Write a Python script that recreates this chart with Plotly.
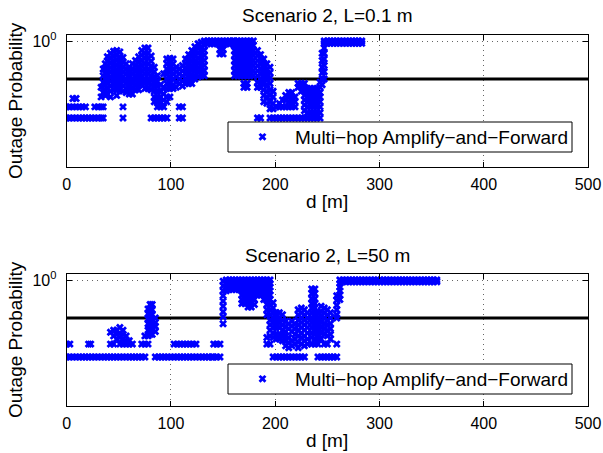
import plotly.graph_objects as go

# ---------------- data ----------------
threshold = 0.5
x_ticks = [0, 100, 200, 300, 400, 500]
x_tick_labels = ["0", "100", "200", "300", "400", "500"]
y_ticks = [1]
y_tick_labels = ["10<sup>0</sup>"]
titles = ["Scenario 2, L=0.1 m", "Scenario 2, L=50 m"]
x_label = "d [m]"
y_label = "Outage Probability"
legend_label = "Multi\u2212hop Amplify\u2212and\u2212Forward"

top_columns = [
    (0, [0.30, 0.245]), (3, [0.30, 0.245]), (6, [0.35, 0.30, 0.245]), (9, [0.35, 0.30, 0.245]),
    (12, [0.30, 0.245]), (15, [0.30, 0.245]), (18, [0.30, 0.245]), (21, [0.245]), (24, [0.245]),
    (27, [0.30, 0.245]), (30, [0.30, 0.245]), (33, [0.43, 0.36, 0.30, 0.245]),
    (35, [0.60, 0.53, 0.47, 0.39, 0.30, 0.245]),
    (37, [0.66, 0.60, 0.55, 0.50, 0.45, 0.41, 0.37]),
    (39, [0.75, 0.69, 0.63, 0.58, 0.53, 0.50, 0.46, 0.42, 0.38]),
    (42, [0.80, 0.74, 0.68, 0.62, 0.57, 0.52, 0.48, 0.44, 0.40, 0.36]),
    (45, [0.83, 0.76, 0.69, 0.63, 0.58, 0.53, 0.49, 0.45, 0.41]),
    (48, [0.84, 0.77, 0.70, 0.64, 0.58, 0.53, 0.49, 0.45, 0.41, 0.37]),
    (51, [0.82, 0.75, 0.69, 0.63, 0.58, 0.53, 0.49, 0.45, 0.41]),
    (54, [0.74, 0.68, 0.62, 0.57, 0.52, 0.48, 0.44, 0.40, 0.30, 0.245]),
    (57, [0.66, 0.60, 0.55, 0.50, 0.46, 0.42, 0.39]),
    (60, [0.60, 0.55, 0.50, 0.46, 0.42, 0.38]),
    (63, [0.66, 0.60, 0.55, 0.50, 0.46, 0.42, 0.38]),
    (66, [0.70, 0.64, 0.58, 0.53, 0.49, 0.45, 0.41]),
    (69, [0.75, 0.69, 0.63, 0.58, 0.53, 0.49, 0.45, 0.41]),
    (72, [0.84, 0.77, 0.70, 0.64, 0.58, 0.53, 0.49, 0.45]),
    (75, [0.88, 0.80, 0.73, 0.66, 0.60, 0.55, 0.50, 0.46, 0.42]),
    (78, [0.88, 0.80, 0.73, 0.66, 0.60, 0.55, 0.50, 0.46, 0.42]),
    (81, [0.76, 0.69, 0.63, 0.58, 0.53, 0.49, 0.45, 0.41, 0.245]),
    (84, [0.62, 0.57, 0.52, 0.48, 0.44, 0.40, 0.36, 0.33, 0.245]),
    (87, [0.53, 0.48, 0.44, 0.40, 0.36, 0.33, 0.30, 0.245]),
    (90, [0.45, 0.40, 0.36, 0.33, 0.30, 0.245]),
    (93, [0.55, 0.43, 0.38, 0.34, 0.30, 0.245]),
    (96, [0.72, 0.66, 0.60, 0.55, 0.50, 0.46, 0.42, 0.36, 0.33, 0.245]),
    (99, [0.73, 0.67, 0.61, 0.56, 0.51, 0.46, 0.42, 0.36]),
    (102, [0.72, 0.66, 0.60, 0.55, 0.50, 0.45, 0.42]),
    (105, [0.62, 0.57, 0.52, 0.47, 0.43]),
    (108, [0.60, 0.55, 0.50, 0.46, 0.30, 0.245]),
    (111, [0.64, 0.58, 0.53, 0.48, 0.44, 0.30, 0.245]),
    (114, [0.72, 0.66, 0.60, 0.55, 0.50, 0.46]),
    (117, [0.78, 0.71, 0.65, 0.60, 0.55, 0.50, 0.46]),
    (120, [0.84, 0.77, 0.70, 0.64, 0.59, 0.54, 0.50, 0.46]),
    (123, [0.90, 0.83, 0.76, 0.69, 0.63, 0.58, 0.53, 0.50]),
    (126, [0.95, 0.88, 0.81, 0.74, 0.68, 0.62, 0.57, 0.52]),
    (129, [0.98, 0.90, 0.83, 0.76, 0.69, 0.63, 0.58, 0.53]),
    (132, [1.00, 0.92, 0.84, 0.77, 0.70, 0.64, 0.58, 0.53]),
    (135, [1.00, 0.95]), (138, [1.00, 0.95]), (141, [1.00, 0.95]), (144, [1.00, 0.95]),
    (147, [1.00, 0.93, 0.86, 0.79]), (150, [1.00, 0.93, 0.86, 0.79]),
    (153, [1.00, 0.95]), (156, [1.00, 0.95]), (159, [1.00, 0.95]),
    (161, [1.00, 0.92, 0.84, 0.77, 0.70, 0.64, 0.58, 0.53]),
    (164, [1.00, 0.92, 0.84, 0.77, 0.70, 0.64, 0.58, 0.53]),
    (167, [1.00, 0.92, 0.84, 0.77, 0.70, 0.64, 0.58, 0.53]),
    (170, [1.00, 0.92, 0.84, 0.77, 0.70, 0.64, 0.58, 0.53, 0.46, 0.43]),
    (173, [1.00, 0.92, 0.84, 0.77, 0.70, 0.64, 0.58, 0.53, 0.46, 0.43]),
    (176, [1.00, 0.92, 0.84, 0.77, 0.70, 0.64, 0.58, 0.53]),
    (179, [1.00, 0.92, 0.84, 0.77, 0.70, 0.64, 0.58, 0.53]),
    (183, [0.84, 0.77, 0.70, 0.64, 0.58, 0.53, 0.47, 0.43, 0.245]),
    (186, [0.78, 0.72, 0.66, 0.60, 0.55, 0.50, 0.46, 0.43, 0.245]),
    (189, [0.72, 0.66, 0.60, 0.55, 0.50, 0.46, 0.41, 0.37, 0.33]),
    (192, [0.66, 0.60, 0.55, 0.50, 0.45, 0.40, 0.36, 0.32]),
    (195, [0.62, 0.56, 0.51, 0.46, 0.41, 0.37, 0.33, 0.29, 0.245]),
    (198, [0.40, 0.36, 0.32, 0.29, 0.245]),
    (201, [0.30, 0.245]), (204, [0.32, 0.30, 0.245]), (207, [0.34, 0.30, 0.245]),
    (210, [0.37, 0.34, 0.30, 0.245]), (213, [0.39, 0.36, 0.33, 0.30, 0.245]),
    (216, [0.39, 0.36, 0.33, 0.30, 0.245]), (219, [0.36, 0.33, 0.30, 0.245]),
    (222, [0.46, 0.43, 0.245]), (225, [0.46, 0.43, 0.40, 0.245]),
    (228, [0.46, 0.43, 0.40, 0.37, 0.34, 0.31, 0.28, 0.245]),
    (231, [0.42, 0.39, 0.36, 0.33, 0.30, 0.27, 0.245]),
    (234, [0.42, 0.39, 0.36, 0.33, 0.30, 0.27, 0.245]),
    (237, [0.42, 0.39, 0.36, 0.33, 0.30, 0.27, 0.245]),
    (240, [0.42, 0.39, 0.36, 0.33, 0.30, 0.27, 0.245]),
    (243, [0.47, 0.43, 0.39, 0.36, 0.33, 0.30, 0.27, 0.245]),
    (245, [0.80, 0.70, 0.62, 0.56, 0.50, 0.45]),
    (247, [1.00, 0.96, 0.88, 0.80, 0.72, 0.64, 0.57, 0.50]),
    (250, [1.00, 0.96]), (253, [1.00, 0.96]), (256, [1.00, 0.96]), (259, [1.00, 0.96]),
    (262, [1.00, 0.96]), (265, [1.00, 0.96]), (268, [1.00, 0.96]), (271, [1.00, 0.96]),
    (274, [1.00, 0.96]), (277, [1.00, 0.96]), (280, [1.00, 0.96]), (283, [1.00, 0.96]),
]

bottom_columns = [
    (0, [0.31, 0.245]), (3, [0.31, 0.245]), (6, [0.245]), (9, [0.245]), (12, [0.245]),
    (15, [0.245]), (18, [0.245]), (21, [0.31, 0.245]), (23, [0.31]), (24, [0.245]),
    (27, [0.245]), (30, [0.245]), (33, [0.245]), (36, [0.245]), (39, [0.245]),
    (42, [0.385, 0.31, 0.245]), (45, [0.40, 0.36, 0.31, 0.245]),
    (48, [0.40, 0.37, 0.34, 0.245]), (51, [0.42, 0.38, 0.35, 0.31, 0.245]),
    (54, [0.40, 0.37, 0.34, 0.31, 0.245]), (57, [0.36, 0.33, 0.31, 0.245]),
    (60, [0.33, 0.31, 0.245]), (63, [0.31, 0.245]), (66, [0.245]), (69, [0.245]),
    (72, [0.31, 0.245]), (75, [0.36, 0.31, 0.245]),
    (78, [0.59, 0.54, 0.49, 0.45, 0.40, 0.36, 0.31]),
    (80, [0.64, 0.58, 0.53, 0.48, 0.44, 0.40, 0.37]),
    (82, [0.64, 0.58, 0.53, 0.48, 0.44, 0.40, 0.37]),
    (85, [0.50, 0.46, 0.43, 0.39, 0.245]),
    (88, [0.245]), (91, [0.245]), (94, [0.245]), (97, [0.245]), (100, [0.245]),
    (103, [0.31, 0.245]), (106, [0.31, 0.245]), (109, [0.31, 0.245]), (112, [0.31, 0.245]),
    (115, [0.31, 0.245]), (118, [0.31, 0.245]), (121, [0.31, 0.245]), (124, [0.31, 0.245]),
    (127, [0.245]), (130, [0.245]), (133, [0.245]), (136, [0.245]), (139, [0.245]),
    (141, [0.31, 0.245]), (144, [0.31, 0.245]), (147, [0.31, 0.245]),
    (150, [0.98, 0.90, 0.82, 0.75, 0.68, 0.62, 0.56, 0.51, 0.45]),
    (153, [1.00, 0.94, 0.88, 0.82]), (156, [1.00, 0.94, 0.88, 0.84]),
    (159, [1.00, 0.94, 0.88, 0.84]), (162, [1.00, 0.94, 0.88, 0.84]),
    (165, [1.00, 0.94, 0.88, 0.84]),
    (168, [1.00, 0.94, 0.88, 0.82, 0.76, 0.70, 0.65]),
    (171, [1.00, 0.94, 0.88, 0.82, 0.76, 0.70, 0.65]),
    (174, [1.00, 0.94, 0.88, 0.82, 0.76, 0.70, 0.65, 0.61]),
    (177, [1.00, 0.94, 0.88, 0.82, 0.76, 0.70, 0.65, 0.61]),
    (180, [1.00, 0.94, 0.88, 0.82, 0.76, 0.70, 0.64]),
    (183, [1.00, 0.94, 0.88, 0.82, 0.76]), (186, [1.00, 0.94, 0.88, 0.82, 0.76]),
    (189, [1.00, 0.94, 0.88, 0.82, 0.76, 0.70]),
    (192, [1.00, 0.94, 0.88, 0.82, 0.76, 0.70, 0.64, 0.58, 0.53, 0.35, 0.31]),
    (195, [1.00, 0.94, 0.88, 0.82, 0.76, 0.70, 0.64, 0.58, 0.53, 0.48, 0.44, 0.40, 0.36, 0.31]),
    (198, [0.66, 0.60, 0.55, 0.50, 0.46, 0.42, 0.38, 0.35, 0.245]),
    (201, [0.55, 0.50, 0.46, 0.42, 0.37, 0.34, 0.245]),
    (204, [0.55, 0.50, 0.46, 0.42, 0.37, 0.34, 0.245]),
    (207, [0.53, 0.48, 0.44, 0.40, 0.36, 0.33, 0.245]),
    (210, [0.47, 0.43, 0.39, 0.36, 0.33, 0.30, 0.245]),
    (213, [0.45, 0.41, 0.35, 0.32, 0.29, 0.245]),
    (216, [0.47, 0.43, 0.39, 0.33, 0.30, 0.245]),
    (219, [0.45, 0.41, 0.37, 0.34, 0.31, 0.245]),
    (222, [0.58, 0.53, 0.48, 0.44, 0.40, 0.36, 0.32, 0.29, 0.245]),
    (225, [0.60, 0.55, 0.50, 0.46, 0.42, 0.38, 0.35, 0.31, 0.245]),
    (228, [0.58, 0.53, 0.48, 0.44, 0.40, 0.36, 0.33, 0.30, 0.245]),
    (231, [0.55, 0.50, 0.46, 0.42, 0.38, 0.34, 0.31]),
    (235, [0.85, 0.78, 0.71, 0.65, 0.60, 0.55, 0.50, 0.46, 0.42, 0.38, 0.35, 0.31]),
    (238, [0.85, 0.78, 0.71, 0.65, 0.60, 0.55, 0.50, 0.46, 0.42, 0.38, 0.34, 0.31]),
    (241, [0.55, 0.50, 0.46, 0.42, 0.38, 0.34, 0.31, 0.245]),
    (244, [0.62, 0.56, 0.51, 0.46, 0.42, 0.38, 0.34, 0.245]),
    (247, [0.60, 0.55, 0.50, 0.45, 0.41, 0.37, 0.31, 0.245]),
    (250, [0.58, 0.53, 0.48, 0.44, 0.40, 0.36, 0.31, 0.245]),
    (253, [0.55, 0.50, 0.45, 0.41, 0.37, 0.34, 0.245]),
    (256, [0.245]),
    (259, [0.75, 0.69, 0.63, 0.58, 0.53, 0.50, 0.31, 0.245]),
    (262, [1.00, 0.94, 0.88, 0.82, 0.76, 0.70]),
    (265, [1.00, 0.97]), (268, [1.00, 0.97]), (271, [1.00, 0.97]), (274, [1.00, 0.97]),
    (277, [1.00, 0.97]), (280, [1.00, 0.97]), (283, [1.00, 0.97]), (286, [1.00, 0.97]),
    (289, [1.00, 0.97]), (292, [1.00, 0.97]), (295, [1.00, 0.97]), (298, [1.00, 0.97]),
    (301, [1.00, 0.97]), (304, [1.00, 0.97]), (307, [1.00, 0.97]), (310, [1.00, 0.97]),
    (313, [1.00, 0.97]), (316, [1.00, 0.97]), (319, [1.00, 0.97]), (322, [1.00, 0.97]),
    (325, [1.00, 0.97]), (328, [1.00, 0.97]), (331, [1.00, 0.97]), (334, [1.00, 0.97]),
    (337, [1.00, 0.97]), (340, [1.00, 0.97]), (343, [1.00, 0.97]), (346, [1.00, 0.97]),
    (349, [1.00, 0.97]), (352, [1.00, 0.97]), (355, [1.00, 0.97]),
]


def flatten(columns):
    xs, ys = [], []
    for d, probs in columns:
        for p in probs:
            xs.append(d)
            ys.append(p)
    return xs, ys


d_top, p_top = flatten(top_columns)
d_bot, p_bot = flatten(bottom_columns)

# ---------------- figure ----------------
W, H = 603, 453
FONT = "Liberation Sans, Arial, Helvetica, sans-serif"
BLUE = "rgb(0,0,255)"

def px_x(x):
    return x / W

def px_y(y):
    return 1 - y / H

x_dom = [px_x(66.7), px_x(588)]
y_dom_top = [px_y(167), px_y(35)]
y_dom_bot = [px_y(406), px_y(274)]

fig = go.Figure()

marker = dict(symbol="x", size=7, color=BLUE, line=dict(width=0))

fig.add_trace(go.Scatter(x=[0, 500], y=[threshold, threshold], mode="lines",
                         line=dict(color="black", width=3), showlegend=False,
                         xaxis="x", yaxis="y"))
fig.add_trace(go.Scatter(x=d_top, y=p_top, mode="markers", marker=marker,
                         name=legend_label, xaxis="x", yaxis="y", legend="legend"))
fig.add_trace(go.Scatter(x=[0, 500], y=[threshold, threshold], mode="lines",
                         line=dict(color="black", width=3), showlegend=False,
                         xaxis="x2", yaxis="y2"))
fig.add_trace(go.Scatter(x=d_bot, y=p_bot, mode="markers", marker=marker,
                         name=legend_label, xaxis="x2", yaxis="y2", legend="legend2"))

GRID = dict(showgrid=True, gridcolor="#666666", griddash="1px,4px", gridwidth=1)

xaxis_common = dict(
    range=[0, 500], tickvals=x_ticks, ticktext=x_tick_labels,
    showline=True, linecolor="black", linewidth=1, mirror="ticks",
    ticks="inside", ticklen=5, tickcolor="black", tickwidth=1,
    zeroline=False, tickfont=dict(family=FONT, size=16, color="black"),
    domain=x_dom, ticklabelstandoff=3, automargin=False, **GRID,
)
yaxis_common = dict(
    type="log", range=[-1, 0.0477], tickvals=y_ticks, ticktext=y_tick_labels,
    showline=True, linecolor="black", linewidth=1, mirror="ticks",
    ticks="inside", ticklen=5, tickcolor="black", tickwidth=1,
    zeroline=False, tickfont=dict(family=FONT, size=16, color="black"),
    ticklabelstandoff=6, automargin=False, **GRID,
)

fig.update_layout(
    width=W, height=H, autosize=False,
    margin=dict(l=0, r=0, t=0, b=0, pad=0, autoexpand=False),
    paper_bgcolor="white", plot_bgcolor="white",
    font=dict(family=FONT, color="black"),
    hovermode=False,
    xaxis=dict(**xaxis_common, anchor="y"),
    yaxis=dict(**yaxis_common, domain=y_dom_top, anchor="x"),
    xaxis2=dict(**xaxis_common, anchor="y2"),
    yaxis2=dict(**yaxis_common, domain=y_dom_bot, anchor="x2"),
    legend=dict(x=px_x(230), y=px_y(137), xanchor="left", yanchor="middle",
                bgcolor="rgba(0,0,0,0)", borderwidth=0, itemwidth=55,
                font=dict(family=FONT, size=19, color="black")),
    legend2=dict(x=px_x(230), y=px_y(379), xanchor="left", yanchor="middle",
                 bgcolor="rgba(0,0,0,0)", borderwidth=0, itemwidth=55,
                 font=dict(family=FONT, size=19, color="black")),
    shapes=[
        dict(type="rect", xref="paper", yref="paper", layer="above",
             x0=px_x(228), x1=px_x(572), y0=px_y(152), y1=px_y(122),
             fillcolor="white", line=dict(color="black", width=1)),
        dict(type="rect", xref="paper", yref="paper", layer="above",
             x0=px_x(228), x1=px_x(572), y0=px_y(394), y1=px_y(364),
             fillcolor="white", line=dict(color="black", width=1)),
    ],
)

xc = (x_dom[0] + x_dom[1]) / 2
ann = []
for t, ty in zip(titles, [16, 255]):
    ann.append(dict(text=t, x=xc, y=px_y(ty), xref="paper", yref="paper",
                    showarrow=False, xanchor="center", yanchor="middle",
                    font=dict(family=FONT, size=19, color="black")))
for ty in [201, 440]:
    ann.append(dict(text=x_label, x=xc, y=px_y(ty), xref="paper", yref="paper",
                    showarrow=False, xanchor="center", yanchor="middle",
                    font=dict(family=FONT, size=19, color="black")))
for ty in [101, 340]:
    ann.append(dict(text=y_label, x=px_x(15), y=px_y(ty), xref="paper", yref="paper",
                    showarrow=False, xanchor="center", yanchor="middle", textangle=-90,
                    font=dict(family=FONT, size=19, color="black")))
fig.update_layout(annotations=ann)

fig.write_html(
    "out.html",
    config={"displayModeBar": False, "responsive": False, "staticPlot": True},
    post_script="document.body.style.margin='0';document.body.style.overflow='hidden';",
)
